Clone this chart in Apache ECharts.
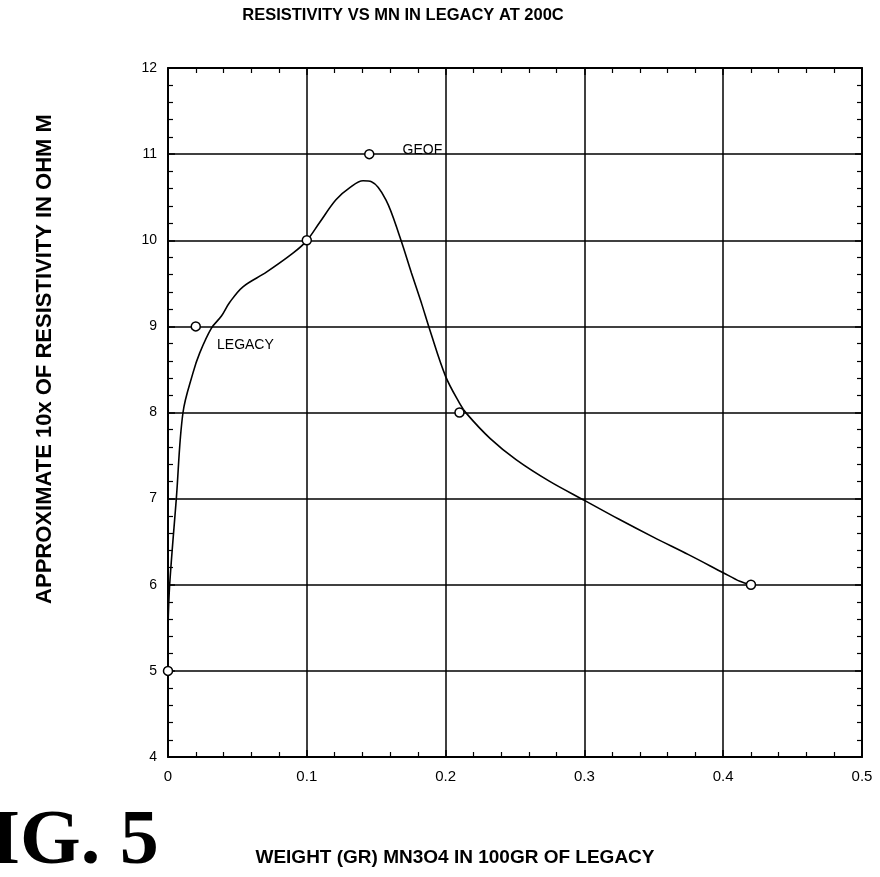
<!DOCTYPE html>
<html><head><meta charset="utf-8">
<script src="https://cdn.jsdelivr.net/npm/echarts@6/dist/echarts.min.js"></script>
<style>html,body{margin:0;padding:0;background:#fff}#c{width:880px;height:877px}</style>
</head><body><div id="c"></div>
<script>
const chartTitle = 'RESISTIVITY VS MN IN LEGACY AT 200C';
const xTitle = 'WEIGHT (GR) MN3O4 IN 100GR OF LEGACY';
const yTitle = 'APPROXIMATE 10x OF RESISTIVITY IN OHM M';
const figLabel = 'FIG. 5';
const xTicks = [0, 0.1, 0.2, 0.3, 0.4, 0.5];
const yTicks = [4, 5, 6, 7, 8, 9, 10, 11, 12];
const pointX = [0, 0.02, 0.1, 0.145, 0.21, 0.42];
const pointY = [5, 9, 10, 11, 8, 6];
const pointLabels = ['', 'LEGACY', '', 'GEOF', '', ''];
const curveX = [0, 0.0012, 0.006, 0.0108, 0.018, 0.0228, 0.0313, 0.0385, 0.0445, 0.054, 0.0709, 0.090, 0.0997, 0.109, 0.121, 0.131, 0.1405, 0.1466, 0.157, 0.167, 0.1754, 0.1826, 0.1886, 0.2, 0.210, 0.215, 0.232, 0.251, 0.275, 0.3, 0.325, 0.35, 0.375, 0.40, 0.412, 0.42];
const curveY = [5.5, 6.0, 7.0, 8.0, 8.46, 8.69, 8.98, 9.12, 9.28, 9.46, 9.63, 9.85, 9.99, 10.2, 10.47, 10.61, 10.69, 10.68, 10.47, 10.04, 9.62, 9.27, 8.96, 8.42, 8.11, 7.99, 7.70, 7.45, 7.2, 6.98, 6.76, 6.55, 6.35, 6.14, 6.04, 6.0];

const SANS = '"Liberation Sans", Arial, sans-serif';

const chart = echarts.init(document.getElementById('c'), null, {renderer: 'canvas'});

function mkX(pos, showLabel) {
  return {
    type: 'value', position: pos, min: xTicks[0], max: xTicks[xTicks.length - 1],
    interval: xTicks[1] - xTicks[0],
    axisLine: {show: true, onZero: false, lineStyle: {color: '#000', width: 2}},
    axisTick: {show: true, inside: true, length: 7, lineStyle: {color: '#000', width: 1.5}},
    minorTick: {show: true, splitNumber: 5, length: 5, lineStyle: {color: '#000', width: 1.2}},
    splitLine: {show: showLabel, lineStyle: {color: '#000', width: 1.5}},
    minorSplitLine: {show: false},
    axisLabel: {show: showLabel, color: '#000', fontSize: 15, fontFamily: SANS, margin: 12,
      formatter: v => String(v)}
  };
}
function mkY(pos, showLabel) {
  return {
    type: 'value', position: pos, min: yTicks[0], max: yTicks[yTicks.length - 1],
    interval: yTicks[1] - yTicks[0],
    axisLine: {show: true, onZero: false, lineStyle: {color: '#000', width: 2}},
    axisTick: {show: true, inside: true, length: 7, lineStyle: {color: '#000', width: 1.5}},
    minorTick: {show: true, splitNumber: 5, length: 5, lineStyle: {color: '#000', width: 1.2}},
    splitLine: {show: showLabel, lineStyle: {color: '#000', width: 1.5}},
    minorSplitLine: {show: false},
    axisLabel: {show: showLabel, color: '#000', fontSize: 14, fontFamily: SANS, margin: 11,
      formatter: v => String(v)}
  };
}

const scatterData = pointX.map((x, i) => {
  const d = {value: [x, pointY[i]]};
  if (pointLabels[i]) {
    d.label = {show: true, formatter: pointLabels[i]};
  }
  return d;
});
// per-label placement
scatterData[1].label.position = 'right';
scatterData[1].label.distance = 16;
scatterData[1].label.offset = [0, 19];
scatterData[3].label.position = 'right';
scatterData[3].label.distance = 28;
scatterData[3].label.offset = [0, -4];

const option = {
  animation: false,
  backgroundColor: '#fff',
  grid: {left: 168, right: 18, top: 68, bottom: 120, containLabel: false},
  xAxis: [mkX('bottom', true), mkX('top', false)],
  yAxis: [mkY('left', true), mkY('right', false)],
  series: [
    {
      type: 'line', xAxisIndex: 0, yAxisIndex: 0,
      data: curveX.map((x, i) => [x, curveY[i]]),
      symbol: 'none', showSymbol: false, smooth: 0.35,
      lineStyle: {color: '#000', width: 1.6}, z: 3
    },
    {
      type: 'scatter', xAxisIndex: 0, yAxisIndex: 0,
      data: scatterData, symbol: 'circle', symbolSize: 9,
      itemStyle: {color: '#fff', borderColor: '#000', borderWidth: 1.5, opacity: 1},
      label: {color: '#000', fontSize: 14, fontFamily: SANS},
      z: 4
    }
  ],
  graphic: [
    {type: 'text', x: 403, y: 7,
      style: {text: chartTitle, font: 'bold 16.5px ' + SANS, fill: '#000', align: 'center'}},
    {type: 'text', x: 455, y: 848,
      style: {text: xTitle, font: 'bold 19px ' + SANS, fill: '#000', align: 'center'}},
    {type: 'text', x: 34, y: 359, rotation: Math.PI / 2,
      style: {text: yTitle, font: 'bold 22px ' + SANS, fill: '#000', align: 'center'}},
    {type: 'text', x: -58, y: 804,
      style: {text: figLabel, font: 'bold 78px "Liberation Serif", "Times New Roman", serif', fill: '#000'}}
  ]
};
chart.setOption(option);
</script>
</body></html>
